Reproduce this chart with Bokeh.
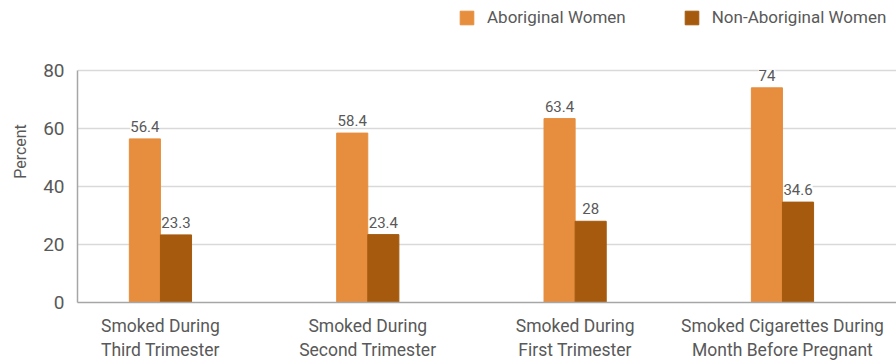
from bokeh.plotting import figure
from bokeh.models import (ColumnDataSource, Range1d, FixedTicker, LabelSet,
                          Legend, LegendItem)
from bokeh.core.properties import value
from bokeh.embed import file_html
from bokeh.resources import INLINE
import numpy as np

categories = ["Smoked During\nThird Trimester", "Smoked During\nSecond Trimester",
              "Smoked During\nFirst Trimester", "Smoked Cigarettes During\nMonth Before Pregnant"]
aboriginal = [56.4, 58.4, 63.4, 74]
non_aboriginal = [23.3, 23.4, 28, 34.6]
series_names = ["Aboriginal Women", "Non-Aboriginal Women"]
y_ticks = [0, 20, 40, 60, 80]

FONT = "Roboto"
TXT = "#595959"
C1, C2 = "#E68E3E", "#A65A0E"

x = np.arange(len(categories)) + 0.5
bw = 0.15

# the frame runs to the top of the canvas so the legend can sit above the 80 line;
# the value axis and its grid stop at 80
p = figure(width=896, height=364, output_backend="svg", toolbar_location=None,
           x_range=Range1d(0.1, 4.05), y_range=Range1d(0, 104.1),
           min_border_left=77, min_border_right=0, min_border_top=0,
           min_border_bottom=62)
p.outline_line_color = None

src1 = ColumnDataSource(dict(x=x - bw / 2, top=aboriginal, lab=[f"{v:g}" for v in aboriginal]))
src2 = ColumnDataSource(dict(x=x + bw / 2, top=non_aboriginal, lab=[f"{v:g}" for v in non_aboriginal]))
r1 = p.vbar(x="x", top="top", width=bw, source=src1, color=C1)
r2 = p.vbar(x="x", top="top", width=bw, source=src2, color=C2)

for s in (src1, src2):
    p.add_layout(LabelSet(x="x", y="top", text="lab", source=s, text_align="center",
                          text_baseline="bottom", y_offset=7, text_font=value(FONT),
                          text_font_size="15px", text_color=TXT,
                          background_fill_color="white", background_fill_alpha=1.0))

p.xgrid.grid_line_color = None
p.ygrid.grid_line_color = "#D9D9D9"
p.ygrid.grid_line_width = 1.5
p.yaxis.ticker = FixedTicker(ticks=y_ticks)
p.yaxis.bounds = (y_ticks[0], y_ticks[-1])
p.xaxis.ticker = FixedTicker(ticks=list(x))
p.xaxis.major_label_overrides = {float(v): c for v, c in zip(x, categories)}

for ax in (p.xaxis[0], p.yaxis[0]):
    ax.axis_line_color = "#A6A6A6"
    ax.axis_line_width = 1.5
    ax.major_tick_line_color = None
    ax.minor_tick_line_color = None
    ax.major_label_text_color = TXT
    ax.major_label_text_font = FONT
    ax.axis_label_text_color = TXT
    ax.axis_label_text_font = FONT
    ax.axis_label_text_font_style = "normal"

p.yaxis.major_label_text_font_size = "19px"
p.yaxis.major_label_standoff = 7
p.yaxis.axis_label = "Percent"
p.yaxis.axis_label_text_font_size = "16px"
p.yaxis.axis_label_standoff = 10
p.xaxis.major_label_text_font_size = "17.5px"
p.xaxis.major_label_standoff = 7

legend = Legend(items=[LegendItem(label=series_names[0], renderers=[r1]),
                       LegendItem(label=series_names[1], renderers=[r2])],
                orientation="horizontal", location=(381, 275),
                label_text_font=FONT, label_text_font_size="17px",
                label_text_color=TXT, glyph_width=17, glyph_height=17,
                spacing=57, padding=0, margin=0, border_line_color=None,
                background_fill_alpha=0, label_standoff=12)
p.add_layout(legend, "center")

open("out.html", "w").write(file_html(p, INLINE))
